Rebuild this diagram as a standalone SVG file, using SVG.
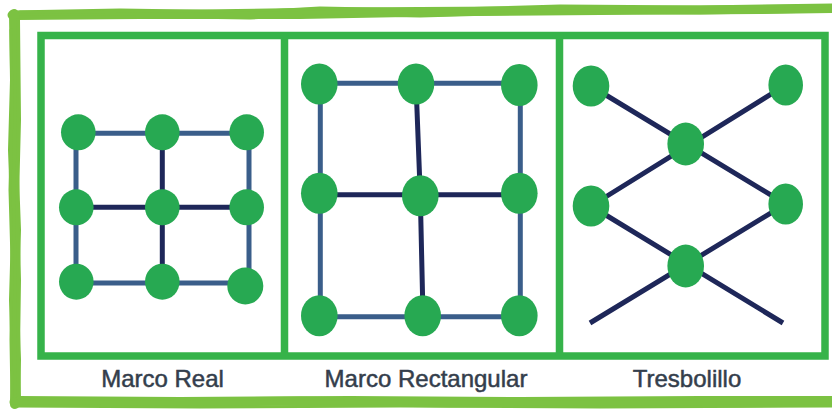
<svg xmlns="http://www.w3.org/2000/svg" width="832" height="409" viewBox="0 0 832 409">
<style>
.sk{fill:none;stroke:#7cc242;stroke-linecap:round;stroke-linejoin:round}
.frame{fill:none;stroke:#36b34a;stroke-width:7.5}
.node{fill:#27a952}
.e1{stroke:#3a5e8a;stroke-width:5;fill:none}
.e2{stroke:#1e2759;stroke-width:5;fill:none}
.lbl{font-family:"Liberation Sans",Arial,sans-serif;font-size:24px;fill:#343e4c;stroke:#343e4c;stroke-width:0.5;text-anchor:middle}
</style>
<rect width="832" height="409" fill="#ffffff"/>
<g id="sketch-border">
<path class="sk" stroke-width="9" d="M12,15 L120,13 L250,15 L320,11 L420,13 L560,9 L700,10 L832,8"/>
<path class="sk" stroke-width="4" d="M14,18 L140,17 L300,17 L460,14 L600,13 L760,12 L832,11"/>
<path class="sk" stroke-width="3" d="M20,12 L200,11 L330,9 L520,8 L700,7 L832,6"/>
<path class="sk" stroke-width="10" d="M14,14 L15,80 L13,150 L16,230 L14,300 L16,360 L15,404"/>
<path class="sk" stroke-width="4" d="M18,20 L19,120 L17,200 L19,280 L18,350 L19,400"/>
<path class="sk" stroke-width="3" d="M11,30 L12,110 L10,190 L12,260 L11,340 L12,400"/>
<path class="sk" stroke-width="9" d="M14,402 L150,403 L300,401 L450,403 L600,402 L740,403 L832,402"/>
<path class="sk" stroke-width="4" d="M18,398 L180,399 L350,398 L520,399 L700,398 L832,398"/>
<path class="sk" stroke-width="3" d="M12,406 L200,407 L400,406 L600,407 L832,406"/>
</g>
<g id="frame">
<rect class="frame" x="41" y="35.5" width="784" height="320.5"/>
<line class="frame" x1="284.5" y1="35.5" x2="284.5" y2="356"/>
<line class="frame" x1="559.5" y1="35.5" x2="559.5" y2="356"/>
</g>
<g id="connectors">
<g id="marco-real-edges">
<path class="e1" d="M78,133.3 H247 M76,133.3 V283 M249,133.3 V283 M76,283 H247"/>
<path class="e2" d="M76,207.3 H247 M162.3,133.3 V283"/>
</g>
<g id="marco-rect-edges">
<path class="e1" d="M319,83.3 H520 M320.3,84 V316 M520.3,85 V316 M319,316.7 H520"/>
<path class="e2" d="M319,194.7 H520 M416,84 L420.3,195.7 L423,316"/>
</g>
<g id="tresbolillo-edges">
<path class="e2" d="M591,86 L785.7,204 M785.7,85 L591,206 M591,206 L783,323 M785.7,204 L590,323"/>
</g>
</g>
<g id="marco-real">
<ellipse class="node" cx="78.3" cy="132.3" rx="17.3" ry="18"/>
<ellipse class="node" cx="162.3" cy="132.3" rx="17.3" ry="18"/>
<ellipse class="node" cx="246.7" cy="132.3" rx="17.3" ry="18"/>
<ellipse class="node" cx="76.3" cy="207.3" rx="17.3" ry="18"/>
<ellipse class="node" cx="162.3" cy="207.3" rx="17.3" ry="18"/>
<ellipse class="node" cx="246.7" cy="207.3" rx="17.3" ry="18"/>
<ellipse class="node" cx="76.3" cy="281.7" rx="17.3" ry="18"/>
<ellipse class="node" cx="162.3" cy="281.7" rx="17.3" ry="18"/>
<ellipse class="node" cx="245.3" cy="286" rx="18" ry="18.5"/>
<text class="lbl" x="162.5" y="386.5">Marco Real</text>
</g>
<g id="marco-rectangular">
<ellipse class="node" cx="319.3" cy="84" rx="18.3" ry="20.5"/>
<ellipse class="node" cx="416" cy="84" rx="18.3" ry="20.5"/>
<ellipse class="node" cx="519.3" cy="85" rx="18.3" ry="21"/>
<ellipse class="node" cx="319.3" cy="193.3" rx="18.3" ry="20.5"/>
<ellipse class="node" cx="420.3" cy="195.7" rx="18.3" ry="20.5"/>
<ellipse class="node" cx="519.3" cy="193.3" rx="18.3" ry="20.5"/>
<ellipse class="node" cx="319.3" cy="315.7" rx="18.3" ry="20.5"/>
<ellipse class="node" cx="422.7" cy="315.7" rx="18.3" ry="20.5"/>
<ellipse class="node" cx="519.3" cy="315.7" rx="18.3" ry="20.5"/>
<text class="lbl" x="426" y="386.5">Marco Rectangular</text>
</g>
<g id="tresbolillo">
<ellipse class="node" cx="591" cy="86" rx="18.3" ry="20.5"/>
<ellipse class="node" cx="785.7" cy="85" rx="17.3" ry="20.5"/>
<ellipse class="node" cx="685.7" cy="144" rx="18.3" ry="21.5"/>
<ellipse class="node" cx="591" cy="206" rx="18.3" ry="20.5"/>
<ellipse class="node" cx="785.7" cy="204" rx="17.3" ry="20.5"/>
<ellipse class="node" cx="685.7" cy="266" rx="18.3" ry="21.5"/>
<text class="lbl" x="687" y="386.5">Tresbolillo</text>
</g>
</svg>
